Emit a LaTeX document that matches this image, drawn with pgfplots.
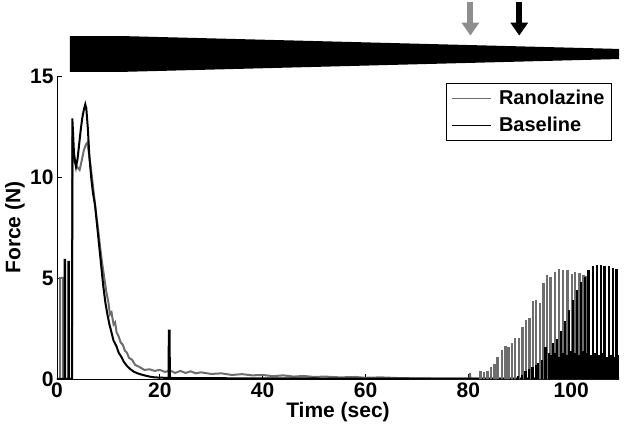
\documentclass[border=0pt]{standalone}
\usepackage{fontspec}
\setmainfont{Liberation Sans}
\usepackage{pgfplots}
\pgfplotsset{compat=1.18}
\usetikzlibrary{arrows.meta}
\definecolor{ranogray}{HTML}{6E6E6E}
\definecolor{arrowgray}{HTML}{8E8E8E}

\begin{document}
\begin{tikzpicture}
\useasboundingbox (-57pt,-57pt) rectangle (567pt,379pt);
\begin{axis}[
  at={(0pt,0pt)}, anchor=south west,
  scale only axis, width=562pt, height=303pt,
  xmin=0, xmax=109.3, ymin=0, ymax=15,
  axis x line=bottom, axis y line=left,
  axis line style={-, line width=0.8pt},
  xtick={0,20,...,100}, ytick={0,5,10,15},
  tick align=inside, major tick length=5pt,
  tick style={line width=0.8pt, black},
  /pgf/number format/assume math mode=true,
  tick label style={font=\fontsize{21}{25}\selectfont\bfseries},
  label style={font=\fontsize{21}{25}\selectfont\bfseries},
  xlabel={Time (sec)}, ylabel={Force (N)},
  xlabel style={at={(axis description cs:0.5,-0.109)}, anchor=center},
  ylabel style={at={(axis description cs:-0.075,0.5)}, anchor=center},
  clip=false,
  legend style={at={(0.9875,0.977)}, anchor=north east, draw=black,
    line width=0.8pt, fill=white, font=\fontsize{20}{24}\selectfont\bfseries,
    inner xsep=5pt, inner ysep=5pt, row sep=7pt,
    /tikz/every odd column/.append style={column sep=5pt}},
  legend cell align=left,
  legend image code/.code={\draw[#1, line width=1.2pt] (0pt,0pt) -- (39pt,0pt);},
]
% wedge and arrows above the trace
\fill[black] (axis cs:2.5,16.98) -- (axis cs:12.2,16.98) -- (axis cs:109.3,16.34)
  -- (axis cs:109.3,15.84) -- (axis cs:12.2,15.2) -- (axis cs:2.5,15.2) -- cycle;
\draw[arrowgray, line width=6pt, -{Triangle[width=17pt,length=13pt]}] (axis cs:80.4,18.65) -- (axis cs:80.4,17.0);
\draw[black, line width=6pt, -{Triangle[width=17pt,length=13pt]}] (axis cs:89.9,18.65) -- (axis cs:89.9,17.0);

% Ranolazine
\addplot[ranogray, line width=2pt] coordinates {
(0,0)(0.6,0)(0.6,5.0)(1.2,5.0)(1.2,0)(2.9,0)(2.98,12.0)(3.2,11.0)(3.5,10.7)(3.9,10.5)
(4.4,10.35)(4.8,10.8)(5.2,11.3)(5.6,11.6)(5.9,11.7)(6.2,11.2)(6.5,10.6)(6.8,10.0)
(7.2,9.1)(7.6,8.2)(8.0,7.4)(8.4,6.5)(8.8,5.7)(9.2,5.0)(9.6,4.3)(10.0,3.8)(10.3,3.2)
(10.6,3.3)(11.0,2.7)(11.3,2.8)(11.6,2.3)(12.0,2.1)(12.4,1.8)(12.8,1.7)(13.2,1.4)
(13.6,1.3)(14.0,1.05)(14.6,0.95)(15.2,0.7)(16,0.6)(17,0.45)(18,0.48)(19,0.4)(20,0.45)
(21,0.35)(22,0.42)(23,0.3)(24,0.4)(25,0.3)(26,0.38)(27,0.28)(28,0.33)(30,0.25)
(32,0.28)(34,0.2)(36,0.24)(38,0.18)(40,0.2)(42,0.14)(44,0.18)(46,0.12)(48,0.15)
(50,0.1)(52,0.12)(55,0.08)(58,0.1)(60,0.06)(63,0.08)(66,0.05)(70,0.03)(75,0.02)
(80.2,0.02)(80.3,0.3)(80.4,0.02)(82.3,0.02)(109.3,0.02)
};
\addlegendentry{Ranolazine}

% Baseline
\addplot[black, line width=2pt] coordinates {
(0,0)(1.5,0)(1.5,5.9)(1.6,5.9)(1.6,0)(2.2,0)(2.2,5.8)(2.3,5.8)(2.3,0)(2.95,0)
(2.98,12.9)(3.1,12.3)(3.3,11.2)(3.5,10.8)(3.7,10.5)(4.0,10.9)(4.3,11.6)(4.6,12.3)
(4.9,12.9)(5.2,13.3)(5.5,13.6)(5.7,13.4)(6.0,12.4)(6.3,11.0)(6.7,9.85)(7.0,9.2)
(7.4,8.6)(7.8,7.6)(8.2,6.6)(8.6,5.6)(9.0,4.6)(9.4,3.8)(9.8,3.2)(10.2,2.7)(10.6,2.3)
(11.0,1.9)(11.6,1.6)(12.0,1.3)(12.5,1.1)(13.0,0.85)(13.6,0.65)(14.2,0.5)(15,0.35)
(16,0.25)(17,0.18)(18,0.12)(19,0.08)(21.7,0.05)(21.75,2.4)(21.9,2.4)(21.95,0.05)
(30,0.04)(40,0.03)(60,0.02)(80,0.02)(109.3,0.02)
};
\addlegendentry{Baseline}

% Ranolazine twitch train
\addplot[ranogray, line width=2.4pt, ycomb, forget plot] coordinates {
(82.4,0.4)(83.1,0.34)(83.7,0.4)(84.4,0.6)(85.1,0.73)(85.7,1.07)(86.5,1.45)(87.2,1.64)
(87.8,1.6)(88.5,1.8)(89.1,2.05)(89.9,2.05)(90.5,2.55)(91.2,2.9)(91.9,3.0)(92.6,3.86)
(93.2,3.9)(93.9,3.75)(94.6,4.75)(95.3,5.15)(96.0,5.05)(96.8,5.3)(97.6,5.43)(98.4,5.4)
(99.3,5.38)(100.1,5.2)(100.8,5.3)(101.6,5.25)(102.4,5.15)(102.8,5.1)
};

% Baseline twitch train
\addplot[black, line width=2.4pt, ycomb, forget plot] coordinates {
(89.7,0.15)(90.4,0.2)(91.1,0.4)(91.8,0.5)(92.5,0.6)(93.2,0.7)(93.6,0.8)
(94.3,0.95)(95.0,1.6)(95.7,1.3)(96.5,1.8)(97.2,2.0)(98.0,2.4)(98.8,2.85)(99.6,3.4)
(100.3,3.9)(101.1,4.4)(101.9,4.8)(102.7,5.05)(103.4,5.4)(104.2,5.6)(105.0,5.65)
(105.8,5.65)(106.5,5.6)(107.3,5.57)(108.1,5.5)(108.8,5.45)
};
\addplot[black, line width=2pt, ycomb, forget plot] coordinates {
(96.1,1.2)(96.9,1.3)(97.6,1.1)(98.4,1.3)(99.2,1.2)(100.0,1.4)(100.7,1.3)(101.5,1.2)
(102.3,1.4)(103.0,1.3)(103.8,1.2)(104.6,1.3)(105.4,1.2)(106.1,1.3)(106.9,1.1)
(107.7,1.2)(108.5,1.1)(109.1,1.2)
};
\end{axis}
\end{tikzpicture}
\end{document}
